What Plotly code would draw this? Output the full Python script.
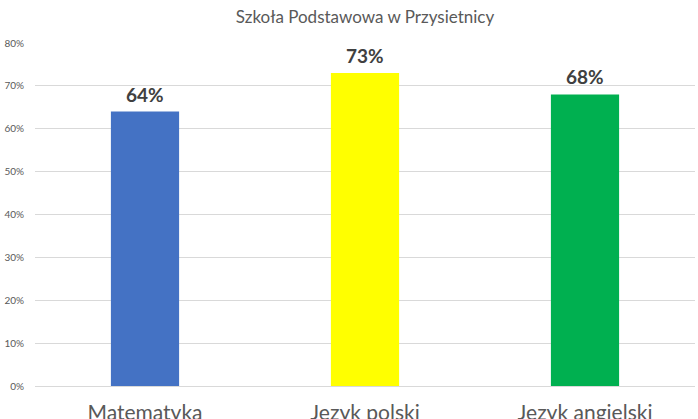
import plotly.graph_objects as go

przedmioty = ["Matematyka", "Język polski", "Język angielski"]
wyniki = [64, 73, 68]
kolory = ["#4472C4", "#FFFF00", "#00B050"]
etykiety = ["64%", "73%", "68%"]
y_ticks = [0, 10, 20, 30, 40, 50, 60, 70, 80]
y_tick_labels = [f"{v}%" for v in y_ticks]

fig = go.Figure()
fig.add_trace(go.Bar(
    x=przedmioty,
    y=wyniki,
    marker=dict(color=kolory, line=dict(width=0)),
    width=0.31,
    hoverinfo="skip",
))

# etykiety wartości nad słupkami
for p, w, e in zip(przedmioty, wyniki, etykiety):
    fig.add_annotation(x=p, y=w, text=e, showarrow=False, yanchor="bottom",
                       yshift=4,
                       font=dict(family="Lato", size=19, color="#404040",
                                 weight="bold"))

fig.update_layout(
    title=dict(text="Szkoła Podstawowa w Przysietnicy", x=0.5, xref="paper",
               xanchor="center", y=0.959, yanchor="middle",
               font=dict(family="Lato", size=17, color="#595959")),
    font=dict(family="Lato", size=11, color="#595959"),
    plot_bgcolor="white",
    paper_bgcolor="white",
    width=698,
    height=419,
    margin=dict(l=35, r=3, t=43, b=33),
    showlegend=False,
)
fig.update_xaxes(showgrid=False, showline=False, ticks="", automargin=False,
                 tickfont=dict(family="Lato", size=21, color="#595959"),
                 ticklabelstandoff=12)
fig.update_yaxes(range=[0, 80], tickvals=y_ticks, ticktext=y_tick_labels,
                 showgrid=True, gridcolor="#D9D9D9", gridwidth=1,
                 zeroline=True, zerolinecolor="#D9D9D9", zerolinewidth=1,
                 showline=False, ticks="", automargin=False,
                 tickfont=dict(family="Lato", size=10, color="#595959"),
                 ticklabelstandoff=10)

# bez domyślnego marginesu strony (8px)
fig.write_html("out.html", config={"displayModeBar": False},
               post_script="document.body.style.margin='0';")
